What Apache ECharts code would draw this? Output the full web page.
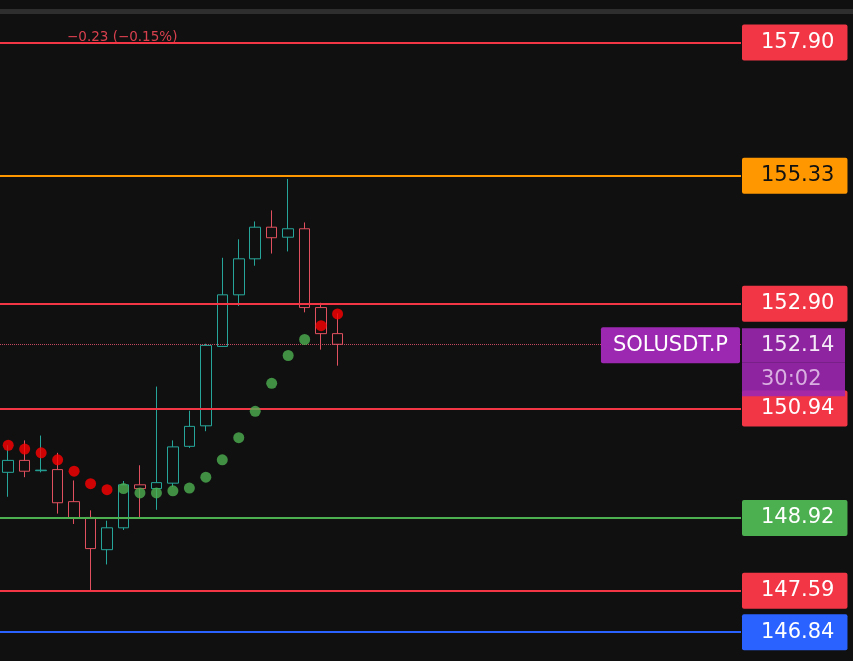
<!DOCTYPE html>
<html><head><meta charset="utf-8">
<script src="https://cdn.jsdelivr.net/npm/echarts@6/dist/echarts.min.js"></script>
<style>html,body{margin:0;padding:0;background:#101010;overflow:hidden}#c{width:853px;height:661px}</style>
</head><body><div id="c"></div>
<script>
// ---- data ----
const symbolName = 'SOLUSDT.P';
const lastPrice = 152.14;
const countdown = '30:02';
const changeText = '\u22120.23 (\u22120.15%)';
const slotCount = 45; // visible bar slots (incl. empty future space)

const candleOpen  = [149.76,149.98,149.79,149.81,149.22,148.93,148.34,148.74,149.53,149.46,149.56,150.24,150.62,152.10,153.07,153.75,154.35,154.16,154.32,152.83,152.34];
const candleClose = [149.98,149.78,149.80,149.20,148.92,148.36,148.74,149.53,149.46,149.57,150.23,150.61,152.12,153.07,153.75,154.35,154.15,154.32,152.83,152.34,152.14];
const candleLow   = [149.31,149.67,149.76,149.00,148.81,147.60,148.07,148.70,148.93,149.07,149.49,150.21,150.52,152.09,152.86,153.62,153.85,153.89,152.74,152.04,151.74];
const candleHigh  = [150.26,150.35,150.44,150.12,149.61,149.06,148.87,149.60,149.89,151.35,150.35,150.90,152.15,153.77,154.12,154.46,154.67,155.27,154.44,152.92,152.72];

const sarRed   = [150.26,150.19,150.12,149.99,149.78,149.55,149.44,'-','-','-','-','-','-','-','-','-','-','-','-',152.49,152.71];
const sarGreen = ['-','-','-','-','-','-','-',149.46,149.38,149.38,149.42,149.47,149.67,149.99,150.40,150.89,151.41,151.93,152.23,'-','-'];

const levelPrices     = [157.90, 155.33, 152.90, 150.94, 148.92, 147.59, 146.84];
const levelColors     = ['#f23645','#ff9800','#f23645','#f23645','#4caf50','#f23645','#2962ff'];
const levelTextColors = ['#ffffff','#111111','#ffffff','#ffffff','#ffffff','#ffffff','#ffffff'];

const yMin = 146.32, yMax = 158.73;

// ---- build options ----
const categories = Array.from({length: slotCount}, (_, i) => String(i + 1));
const candleData = candleOpen.map((o, i) => [o, candleClose[i], candleLow[i], candleHigh[i]]);
const FONT = 'DejaVu Sans';

const levelLines = levelPrices.map((p, i) => ({
  yAxis: p,
  lineStyle: {color: levelColors[i], width: 2, type: 'solid'},
  label: {
    show: true, position: 'end', distance: 1,
    formatter: p.toFixed(2),
    backgroundColor: levelColors[i], color: levelTextColors[i],
    fontSize: 21, fontFamily: FONT, lineHeight: 26,
    padding: [5, 13, 5, 19], borderRadius: 2
  }
}));

const priceLine = {
  yAxis: lastPrice,
  lineStyle: {color: '#d9506a', width: 1, type: 'dotted', opacity: 0.9},
  label: {
    show: true, position: 'end', distance: 1,
    formatter: '{a|' + lastPrice.toFixed(2) + '}\n{b|' + countdown + '}',
    padding: [36, 0, 0, 0],
    rich: {
      a: {width: 84, height: 34, lineHeight: 34, align: 'left', padding: [0, 0, 0, 19],
          backgroundColor: '#9c27b0', color: '#ffffff', fontSize: 21, fontFamily: FONT},
      b: {width: 84, height: 34, lineHeight: 34, align: 'left', padding: [0, 0, 0, 19],
          backgroundColor: '#9c27b0', color: '#e1bee7', fontSize: 21, fontFamily: FONT}
    }
  }
};
const symbolLine = {
  yAxis: lastPrice,
  lineStyle: {color: 'rgba(0,0,0,0)', width: 1},
  label: {
    show: true, position: 'insideEndBottom', distance: [1, -17],
    formatter: symbolName,
    backgroundColor: '#9c27b0', color: '#ffffff',
    fontSize: 21, fontFamily: FONT, lineHeight: 26,
    padding: [5, 12, 5, 12], borderRadius: 2
  }
};

const chart = echarts.init(document.getElementById('c'), null, {renderer: 'canvas'});
chart.setOption({
  backgroundColor: '#101010',
  animation: false,
  grid: {left: -1, right: 112, top: 0, bottom: 0},
  xAxis: {type: 'category', data: categories, boundaryGap: true, show: false},
  yAxis: {type: 'log', min: yMin, max: yMax, show: false, scale: true},
  graphic: [
    {type: 'rect', left: 0, top: 9, shape: {width: 853, height: 5}, style: {fill: '#2e2e2e'}, silent: true},
    {type: 'text', left: 67, top: 30, style: {text: changeText, fill: '#d9404e', font: '13.5px "DejaVu Sans"'}, silent: true}
  ],
  series: [
    {
      type: 'candlestick',
      data: candleData,
      barWidth: 11,
      itemStyle: {
        color: '#101010', color0: '#101010',
        borderColor: '#26a69a', borderColor0: '#e0505e', borderWidth: 1
      },
      markLine: {
        symbol: ['none', 'none'], silent: true, animation: false,
        data: [...levelLines, priceLine, symbolLine]
      },
      z: 2
    },
    {type: 'scatter', data: sarRed, symbolSize: 11, itemStyle: {color: '#ff0000'}, z: 5},
    {type: 'scatter', data: sarGreen, symbolSize: 11, itemStyle: {color: '#4caf50'}, z: 5}
  ]
});
</script></body></html>
